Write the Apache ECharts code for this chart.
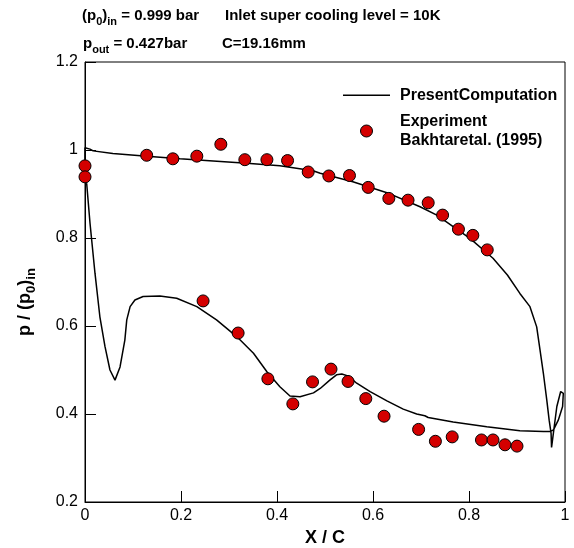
<!DOCTYPE html>
<html>
<head>
<meta charset="utf-8">
<script src="https://cdn.jsdelivr.net/npm/echarts@6/dist/echarts.min.js"></script>
<style>html,body{margin:0;padding:0;background:#fff}#c{width:574px;height:548px}</style>
</head>
<body>
<div id="c"></div>
<script>
// Computed pressure distribution (closed loop: upper surface LE->TE, TE loop, lower surface TE->LE)
const compX = [0.0035, 0, 0, 0.0104, 0.017, 0.058, 0.129, 0.198, 0.267, 0.337, 0.406, 0.475, 0.49, 0.558, 0.629, 0.698, 0.733, 0.767, 0.802, 0.85, 0.88, 0.906, 0.927, 0.941, 0.948, 0.955, 0.962, 0.967, 0.971, 0.972,
  0.983, 0.991, 0.9965, 0.995, 0.986, 0.976, 0.969,
  0.955, 0.906, 0.837, 0.767, 0.715, 0.708, 0.691, 0.663, 0.629, 0.594, 0.566, 0.549, 0.535, 0.524, 0.510, 0.490, 0.476, 0.448, 0.427, 0.406, 0.379, 0.351, 0.316, 0.274, 0.233, 0.191, 0.156, 0.121, 0.104, 0.094, 0.087, 0.083, 0.073, 0.0625, 0.052, 0.0417, 0.031, 0.0208, 0.0104, 0.0035];
const compY = [0.924, 0.95, 1.005, 1.002, 0.998, 0.992, 0.986, 0.980, 0.975, 0.970, 0.964, 0.953, 0.947, 0.928, 0.903, 0.871, 0.852, 0.826, 0.799, 0.754, 0.716, 0.674, 0.644, 0.598, 0.545, 0.492, 0.432, 0.386, 0.356, 0.324,
  0.417, 0.451, 0.447, 0.417, 0.386, 0.364, 0.360,
  0.360, 0.362, 0.371, 0.382, 0.392, 0.396, 0.400, 0.411, 0.430, 0.451, 0.470, 0.486, 0.491, 0.489, 0.477, 0.458, 0.448, 0.439, 0.441, 0.462, 0.496, 0.538, 0.576, 0.614, 0.644, 0.663, 0.668, 0.667, 0.659, 0.644, 0.614, 0.568, 0.507, 0.477, 0.500, 0.553, 0.621, 0.720, 0.834, 0.924];

// Experiment, Bakhtar et al. (1995)
const expX = [0, 0, 0.1285, 0.183, 0.233, 0.283, 0.333, 0.379, 0.422, 0.465, 0.508, 0.551, 0.590, 0.633, 0.673, 0.715, 0.745, 0.778, 0.808, 0.838,
  0.246, 0.319, 0.381, 0.433, 0.474, 0.5125, 0.548, 0.585, 0.623, 0.695, 0.730, 0.765, 0.826, 0.850, 0.875, 0.900];
const expY = [0.964, 0.939, 0.988, 0.980, 0.986, 1.013, 0.978, 0.978, 0.976, 0.950, 0.941, 0.942, 0.915, 0.890, 0.886, 0.880, 0.852, 0.820, 0.806, 0.773,
  0.657, 0.584, 0.480, 0.423, 0.473, 0.502, 0.474, 0.435, 0.395, 0.365, 0.338, 0.348, 0.341, 0.341, 0.330, 0.327];

const xTicks = [0, 0.2, 0.4, 0.6, 0.8, 1];
const yTicks = [0.2, 0.4, 0.6, 0.8, 1, 1.2];

const FONT = '"Liberation Sans", Arial, Helvetica, sans-serif';
const compData = compX.map((x, i) => [x, compY[i]]);
const expData = expX.map((x, i) => [x, expY[i]]);

const sub = { fontSize: 11, fontWeight: 'bold', fontFamily: FONT, color: '#000', padding: [12, 0, 0, 0] };
const base = { fontSize: 15, fontWeight: 'bold', fontFamily: FONT, color: '#000' };

const chart = echarts.init(document.getElementById('c'), null, { renderer: 'canvas' });
chart.setOption({
  animation: false,
  backgroundColor: '#fff',
  grid: { left: 85, right: 9, top: 62, bottom: 46, show: true, borderColor: '#000', borderWidth: 1, containLabel: false, outerBoundsMode: 'none' },
  xAxis: {
    type: 'value', min: xTicks[0], max: xTicks[xTicks.length - 1], interval: 0.2,
    axisLine: { show: true, onZero: false, lineStyle: { color: '#000', width: 1 } },
    axisTick: { show: true, inside: true, length: 11, lineStyle: { color: '#000' } },
    axisLabel: { color: '#000', fontSize: 16, fontFamily: FONT, margin: 6 },
    splitLine: { show: false },
    name: 'X / C', nameLocation: 'middle', nameGap: 27,
    nameTextStyle: { color: '#000', fontSize: 18, fontWeight: 'bold', fontFamily: FONT }
  },
  yAxis: {
    type: 'value', min: yTicks[0], max: yTicks[yTicks.length - 1], interval: 0.2,
    axisLine: { show: true, onZero: false, lineStyle: { color: '#000', width: 1 } },
    axisTick: { show: true, inside: true, length: 11, lineStyle: { color: '#000' } },
    axisLabel: { color: '#000', fontSize: 16, fontFamily: FONT, margin: 7 },
    splitLine: { show: false }
  },
  legend: {
    orient: 'vertical', left: 338, top: 81, itemWidth: 47, itemHeight: 12, itemGap: 8,
    textStyle: { color: '#000', fontSize: 16, fontWeight: 'bold', fontFamily: FONT, lineHeight: 18.5, padding: [0, 0, 0, 5] },
    data: [
      { name: 'PresentComputation', icon: 'path://M0,0L47,0L47,1.5L0,1.5Z', itemStyle: { color: '#000' } },
      { name: 'Experiment\nBakhtaretal. (1995)', icon: 'circle', itemStyle: { color: '#d40000', borderColor: '#000', borderWidth: 1 } }
    ]
  },
  graphic: [
    { type: 'text', left: 82, y: 15.5, style: { text: '{b|(p}{s|0}{b|)}{s|in}{b| = 0.999 bar}', rich: { b: base, s: sub }, verticalAlign: 'middle' } },
    { type: 'text', x: 225, y: 15.5, style: { text: 'Inlet super cooling level = 10K', font: 'bold 15px ' + FONT, fill: '#000', verticalAlign: 'middle' } },
    { type: 'text', left: 83, y: 43.5, style: { text: '{b|p}{s|out}{b| = 0.427bar}', rich: { b: base, s: sub }, verticalAlign: 'middle' } },
    { type: 'text', x: 222, y: 43.5, style: { text: 'C=19.16mm', font: 'bold 15px ' + FONT, fill: '#000', verticalAlign: 'middle' } },
    { type: 'text', x: 25, y: 302, rotation: Math.PI / 2,
      style: { text: '{b|p / (p}{s|0}{b|)}{s|in}', rich: { b: { fontSize: 18, fontWeight: 'bold', fontFamily: FONT, color: '#000' }, s: { fontSize: 13, fontWeight: 'bold', fontFamily: FONT, color: '#000', padding: [12, 0, 0, 0] } }, align: 'center', verticalAlign: 'middle' } }
  ],
  series: [
    {
      name: 'PresentComputation', type: 'line', data: compData, symbol: 'none', showSymbol: false,
      lineStyle: { color: '#000', width: 1.5 }, itemStyle: { color: '#000' }, z: 2, clip: false
    },
    {
      name: 'Experiment\nBakhtaretal. (1995)', type: 'scatter', data: expData, symbol: 'circle', symbolSize: 12,
      itemStyle: { color: '#d40000', borderColor: '#000', borderWidth: 1, opacity: 1 }, z: 3, clip: false
    }
  ]
});
</script>
</body>
</html>
